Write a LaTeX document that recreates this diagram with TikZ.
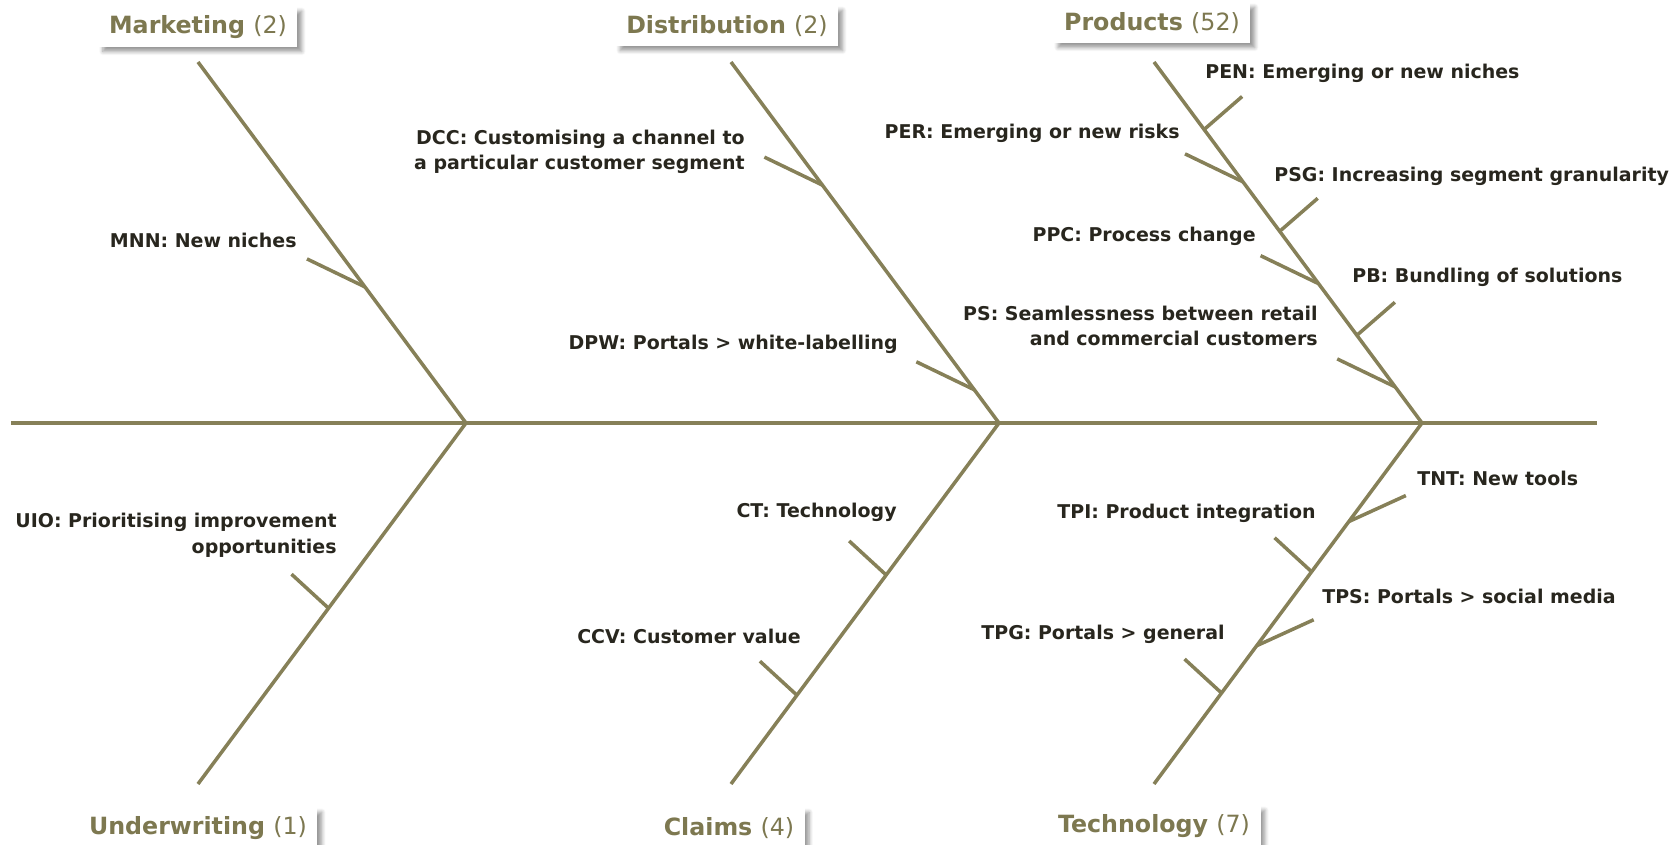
\documentclass[tikz,border=0pt]{standalone}
\usepackage{fontspec}
\setmainfont{DejaVu Sans}
\usetikzlibrary{calc,shadows.blur}
\definecolor{boneolive}{RGB}{134,128,88}
\definecolor{catolive}{RGB}{125,120,80}
\definecolor{itemdark}{RGB}{40,38,30}
\tikzset{
  bone/.style={draw=boneolive, line width=2pt},
  cause/.style={fill=white, text=catolive, inner xsep=6pt, minimum height=23pt,
    font=\fontsize{13.5}{16}\selectfont\bfseries,
    blur shadow={shadow xshift=2.5pt, shadow yshift=-2.5pt, shadow blur steps=6, shadow opacity=40}},
  item/.style={text=itemdark, inner sep=0pt, align=right,
    font=\fontsize{10.8}{14.6}\selectfont\bfseries}
}
\begin{document}
\begin{tikzpicture}[x=0.02cm, y=-0.02cm]
    \useasboundingbox (0,0) rectangle (1680,845);
    % Define spine and junctions
    \coordinate (tail) at (11,423);
    \coordinate (head) at (1597,423);
    \foreach \j/\x in {j1/466, j2/999, j3/1422} {
        \coordinate (\j) at (\x,423);
    }
    \draw[bone] (tail) -- (head);
    % Draw main bones with their category labels
    \foreach \n/\j/\cat/\cnt/\s/\lx/\ly in {mkt/j1/Marketing/2/-1/198/27,
                                            dst/j2/Distribution/2/-1/727/26,
                                            prd/j3/Products/52/-1/1152/23,
                                            uw/j1/Underwriting/1/1/198/828,
                                            clm/j2/Claims/4/1/729/828,
                                            tec/j3/Technology/7/1/1154/826}
    {   \coordinate (\n-end) at ($(\j)+(-268,\s*361)$);
        \node[cause] (\n) at (\lx,\ly) {\cat\ {\mdseries(\cnt)}};
        \draw[bone] (\n-end) -- (\j);}
    % Draw small bones
    \foreach \n/\j/\e/\t/\dx/\dy in {mnn/j1/mkt-end/0.377/-58/-28,
                                     dcc/j2/dst-end/0.659/-58/-28, dpw/j2/dst-end/0.092/-58/-28,
                                     pen/j3/prd-end/0.813/38/-33,  per/j3/prd-end/0.668/-58/-28,
                                     psg/j3/prd-end/0.531/38/-33,  ppc/j3/prd-end/0.386/-58/-28,
                                     pb/j3/prd-end/0.243/38/-33,   ps/j3/prd-end/0.100/-58/-28,
                                     uio/j1/uw-end/0.513/-37/-34,
                                     ct/j2/clm-end/0.421/-37/-34,  ccv/j2/clm-end/0.754/-37/-34,
                                     tnt/j3/tec-end/0.273/57/-26,  tpi/j3/tec-end/0.412/-37/-34,
                                     tps/j3/tec-end/0.617/57/-26,  tpg/j3/tec-end/0.748/-37/-34}
    {   \path ($(\j)!\t!(\e)$) coordinate (\n) ++(\dx,\dy) coordinate (\n-s);
        \draw[bone] (\n-s) -- (\n);}
    % Cause labels
    \foreach \n/\a/\x/\y/\txt in {mnn/east/297/240/{MNN: New niches},
        dcc/east/745/152/{DCC: Customising a channel to\\a particular customer segment},
        dpw/east/898/344/{DPW: Portals > white-labelling},
        pen/west/1205/73/{PEN: Emerging or new niches},
        per/east/1180/133/{PER: Emerging or new risks},
        psg/west/1274/176/{PSG: Increasing segment granularity},
        ppc/east/1256/236/{PPC: Process change},
        pb/west/1352/277/{PB: Bundling of solutions},
        ps/east/1318/326/{PS: Seamlessness between retail\\and commercial customers},
        uio/east/337/535/{UIO: Prioritising improvement\\opportunities},
        ct/east/897/512/{CT: Technology},
        ccv/east/801/636/{CCV: Customer value},
        tnt/west/1417/478/{TNT: New tools},
        tpi/east/1316/513/{TPI: Product integration},
        tps/west/1322/596/{TPS: Portals > social media},
        tpg/east/1225/634/{TPG: Portals > general}}
    {   \node[item, anchor=\a] (\n-l) at (\x,\y) {\txt};}
\end{tikzpicture}
\end{document}
